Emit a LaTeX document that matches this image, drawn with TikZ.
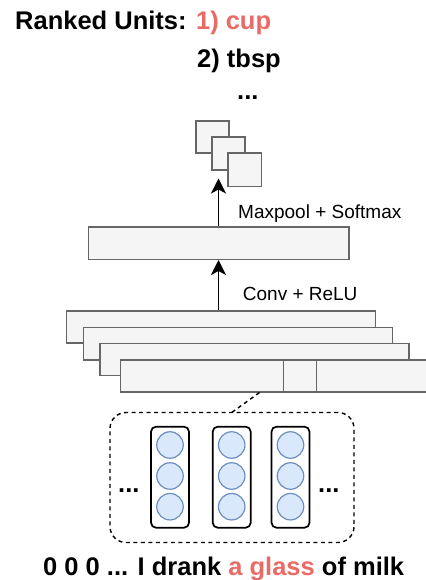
\documentclass[tikz,border=0pt]{standalone}
\usepackage{fontspec}
\setmainfont{Liberation Sans}
\usetikzlibrary{arrows.meta}
\definecolor{boxfill}{HTML}{F5F5F5}
\definecolor{boxline}{HTML}{666666}
\definecolor{cellfill}{HTML}{DAE8FC}
\definecolor{cellline}{HTML}{6C8EBF}
\definecolor{hilite}{HTML}{EA6B66}
\tikzset{
  layer/.style={draw=boxline, fill=boxfill, line width=1.5pt},
  unit/.style={draw=boxline, fill=boxfill, line width=1.5pt},
  column/.style={draw=black, line width=1.7pt, rounded corners=5pt},
  cell/.style={circle, draw=cellline, fill=cellfill, line width=1.2pt, minimum size=26.5pt, inner sep=0pt},
  flow/.style={line width=1.6pt, -{Stealth[length=15pt, width=15pt, inset=4pt]}},
  winline/.style={draw=black, dash pattern=on 4pt off 3.5pt, line width=1.4pt},
  bigtxt/.style={inner sep=0pt, font=\fontsize{25.5}{30}\selectfont\bfseries},
  smalltxt/.style={inner sep=0pt, font=\fontsize{19}{23}\selectfont},
}
\begin{document}
\begin{tikzpicture}[x=1pt, y=-1pt]
\useasboundingbox (0,0) rectangle (425,580);

% ranked output units
\node[bigtxt, anchor=base west] (title) at (15,30) {Ranked Units: \textcolor{hilite}{1) cup}};
\node[bigtxt, anchor=base west] (second) at (197,68) {2) tbsp};
\node[bigtxt, anchor=base west] (more) at (237,100) {...};

% pooled feature maps
\draw[unit] (196,121) rectangle (229,153);
\draw[unit] (212,137) rectangle (245,170);
\draw[unit] (228,153) rectangle (261.5,186.5);
\coordinate (pooltip) at (218.5,178.5);

% hidden layer
\node[layer, minimum width=260.5pt, minimum height=32.5pt, inner sep=0pt] (hidden) at (218.7,243) {};

% convolution stack
\node[layer, anchor=north west, minimum width=309pt, minimum height=32.3pt, inner sep=0pt] (conv1) at (65.7,310) {};
\node[layer, anchor=north west, minimum width=309pt, minimum height=32.3pt, inner sep=0pt] (conv2) at (82.5,326.7) {};
\node[layer, anchor=north west, minimum width=309pt, minimum height=32.3pt, inner sep=0pt] (conv3) at (99,342.5) {};
\node[layer, anchor=north west, minimum width=320pt, minimum height=32pt, inner sep=0pt] (conv4) at (119.5,359) {};
\draw[boxline, line width=1.5pt] (283.3,359) -- (283.3,391);
\draw[boxline, line width=1.5pt] (316.7,359) -- (316.7,391);

% arrows between layers
\draw[flow] (conv1.north -| pooltip) -- (hidden.south -| pooltip);
\draw[flow] (hidden.north -| pooltip) -- (pooltip);

\node[smalltxt, anchor=base west] (maxlbl) at (238,218.3) {Maxpool + Softmax};
\node[smalltxt, anchor=base west] (convlbl) at (242.7,300) {Conv + ReLU};

% input window
\node[winline, rounded corners=16pt, minimum width=244pt, minimum height=130pt, inner sep=0pt] (window) at (232,477.5) {};
\coordinate (winref) at (259.5,392.5);
\draw[winline] (winref) -- (231.7,412.5);

\foreach \name/\cx in {a/170, b/231.7, c/290.5} {
  \node[column, minimum width=38pt, minimum height=101pt, inner sep=0pt] (col\name) at (\cx,477.2) {};
  \node[cell] (\name1) at (\cx,445) {};
  \node[cell] (\name2) at (\cx,476) {};
  \node[cell] (\name3) at (\cx,506.7) {};
}
\node[bigtxt, anchor=base west] (ldots) at (118,492.5) {...};
\node[bigtxt, anchor=base west] (rdots) at (318,492.5) {...};

% input sentence
\node[bigtxt, anchor=base west] (sentence) at (43,575) {0 0 0 ... I drank \textcolor{hilite}{a glass} of milk};
\end{tikzpicture}
\end{document}
